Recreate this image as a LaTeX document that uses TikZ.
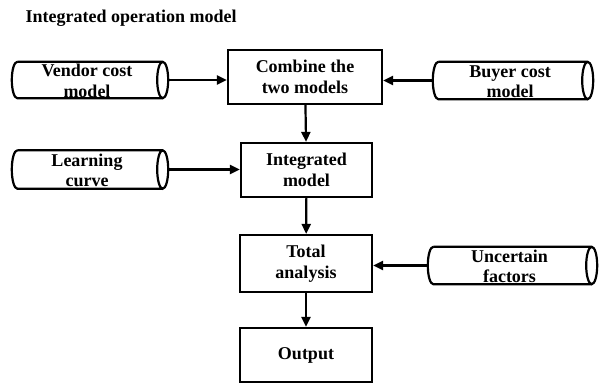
\documentclass[tikz,border=0pt]{standalone}
\usepackage{fontspec}
\setmainfont{Liberation Serif}
\usetikzlibrary{calc,arrows.meta}
\newcommand\cylout[1]{%
  \draw[cylline] let \p1=($(#1.north west)+(0,1)$), \p2=($(#1.south east)+(0,1)$), \n1={(\y1-\y2)/2} in
    (\x1+5.5pt,\y1) -- (\x2+0.5pt,\y1)
    arc[start angle=90,end angle=-270,x radius=5.5pt,y radius=\n1]
    (\x2+0.5pt,\y2) -- (\x1+5.5pt,\y2)
    arc[start angle=270,end angle=90,x radius=5.5pt,y radius=\n1];}
\begin{document}
\begin{tikzpicture}[x=1pt,y=1pt,
  every node/.style={font=\fontsize{18}{20.5}\selectfont\bfseries, align=center},
  box/.style={draw, line width=2.2pt, inner sep=0pt},
  cyl/.style={inner sep=0pt},
  cylline/.style={line width=2.2pt},
  arr/.style={line width=2.2pt, -{Triangle[length=10pt,width=9pt]}}]
\useasboundingbox (0,0) rectangle (603,-383);
\node[anchor=base west] (title) at (22,-22) {Integrated operation model};
\node[box, minimum width=154pt, minimum height=54pt] (comb) at (305,-77) {Combine the\\two models};
\node[box, minimum width=131pt, minimum height=54pt] (integ) at (306.5,-170) {Integrated\\model};
\node[box, minimum width=132pt, minimum height=57pt] (total) at (306,-263.5) {Total\\analysis};
\node[box, minimum width=132pt, minimum height=54pt] (out) at (306,-355) {Output};
\node[cyl, minimum width=150pt, minimum height=36pt] (vendor) at (87,-81) {Vendor cost\\model};
\node[cyl, minimum width=154pt, minimum height=37pt] (buyer) at (510,-81.5) {Buyer cost\\model};
\node[cyl, minimum width=150pt, minimum height=38pt] (learn) at (87,-170.5) {Learning\\curve};
\node[cyl, minimum width=163pt, minimum height=37pt] (unc) at (509.5,-266.5) {Uncertain\\factors};
\cylout{vendor}
\cylout{buyer}
\cylout{learn}
\cylout{unc}
\draw[arr] ([shift={(6pt,1pt)}]vendor.east) -- ([yshift=1pt]vendor -| comb.west);
\draw[arr] ([yshift=1pt]buyer.west) -- ([yshift=1pt]buyer -| comb.east);
\draw[arr] (comb) -- (integ);
\draw[arr] ([shift={(6pt,1pt)}]learn.east) -- ([yshift=1pt]learn -| integ.west);
\draw[arr] (integ) -- (total);
\draw[arr] ([yshift=1pt]unc.west) -- ([yshift=1pt]unc -| total.east);
\draw[arr] (total) -- (out);
\end{tikzpicture}
\end{document}
